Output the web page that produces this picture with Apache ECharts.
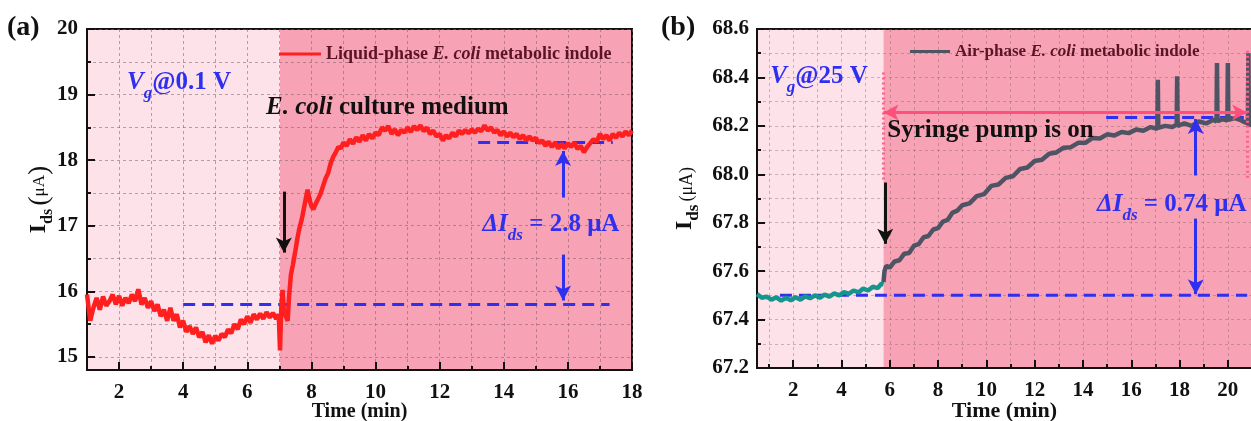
<!DOCTYPE html>
<html>
<head>
<meta charset="utf-8">
<script src="https://cdn.jsdelivr.net/npm/echarts@6/dist/echarts.min.js"></script>
<style>
  html, body { margin: 0; background: #fff; }
  #chart { width: 1251px; height: 421px; }
</style>
</head>
<body>
<div id="chart"></div>
<script>
// ---- panel (a): liquid-phase indole, Ids (uA) vs time (min)
const liquidTime = [
  1.0, 1.1, 1.2, 1.3, 1.4, 1.5, 1.6, 1.7, 1.8, 1.9, 2.0, 2.1, 2.2, 2.3, 2.4, 2.5, 2.6, 2.7, 2.8, 2.9,
  3.0, 3.1, 3.2, 3.3, 3.4, 3.5, 3.6, 3.7, 3.8, 3.9, 4.0, 4.1, 4.2, 4.3, 4.4, 4.5, 4.6, 4.7, 4.8, 4.9,
  5.0, 5.1, 5.2, 5.3, 5.4, 5.5, 5.6, 5.7, 5.8, 5.9, 6.0, 6.1, 6.2, 6.3, 6.4, 6.5, 6.6, 6.7, 6.8, 6.9,
  6.98, 7.02, 7.06, 7.1, 7.14, 7.2, 7.26, 7.3, 7.36, 7.42, 7.5, 7.56, 7.62, 7.7, 7.76, 7.82, 7.88, 7.94,
  8.0, 8.06, 8.12, 8.2, 8.28, 8.36, 8.44, 8.52, 8.6, 8.68, 8.76, 8.84, 8.92, 9.0,
  9.1, 9.2, 9.3, 9.4, 9.5, 9.6, 9.7, 9.8, 9.9, 10.0, 10.1, 10.2, 10.3, 10.4, 10.5, 10.6, 10.7, 10.8, 10.9,
  11.0, 11.1, 11.2, 11.3, 11.4, 11.5, 11.6, 11.7, 11.8, 11.9, 12.0, 12.1, 12.2, 12.3, 12.4, 12.5, 12.6, 12.7, 12.8, 12.9,
  13.0, 13.1, 13.2, 13.3, 13.4, 13.5, 13.6, 13.7, 13.8, 13.9, 14.0, 14.1, 14.2, 14.3, 14.4, 14.5, 14.6, 14.7, 14.8, 14.9,
  15.0, 15.1, 15.2, 15.3, 15.4, 15.5, 15.6, 15.7, 15.8, 15.9, 16.0, 16.1, 16.2, 16.3, 16.4, 16.5, 16.6, 16.7, 16.8, 16.9,
  17.0, 17.1, 17.2, 17.3, 17.4, 17.5, 17.6, 17.7, 17.8, 17.9, 18.0
];
const liquidIds = [
  15.95, 15.55, 15.75, 15.9, 15.72, 15.92, 15.78, 15.85, 15.95, 15.8, 15.93, 15.78, 15.9, 15.82, 15.95, 15.85, 16.03, 15.8, 15.9, 15.75,
  15.85, 15.7, 15.8, 15.62, 15.72, 15.55, 15.75, 15.55, 15.65, 15.45, 15.55, 15.38, 15.47, 15.35, 15.45, 15.3, 15.38, 15.22, 15.33, 15.2,
  15.32, 15.25, 15.35, 15.3, 15.42, 15.36, 15.5, 15.42, 15.57, 15.5, 15.62, 15.52, 15.65, 15.57, 15.66, 15.58, 15.68, 15.6, 15.67, 15.58,
  15.65, 15.1, 15.75, 16.02, 15.7, 15.62, 15.55, 15.9, 16.25, 16.4, 16.62, 16.8, 16.95, 17.1, 17.25, 17.4, 17.55, 17.4,
  17.3, 17.25, 17.32, 17.4, 17.48, 17.6, 17.72, 17.8, 17.95, 18.05, 18.12, 18.2, 18.18, 18.27,
  18.22, 18.32, 18.25, 18.35, 18.28, 18.38, 18.3, 18.4, 18.33, 18.42, 18.38, 18.5, 18.45, 18.52, 18.4, 18.47, 18.38, 18.46, 18.42,
  18.5, 18.43, 18.52, 18.46, 18.53, 18.44, 18.5, 18.4, 18.45, 18.36, 18.4, 18.3, 18.38, 18.33, 18.42, 18.36, 18.45, 18.4, 18.46, 18.41,
  18.47, 18.42, 18.48, 18.44, 18.53, 18.45, 18.5, 18.42, 18.46, 18.38, 18.44, 18.36, 18.42, 18.35, 18.4, 18.32, 18.38, 18.3, 18.36, 18.3,
  18.34, 18.26, 18.3, 18.22, 18.28, 18.2, 18.27, 18.18, 18.25, 18.18, 18.26, 18.2, 18.27, 18.17, 18.22, 18.12, 18.2, 18.26, 18.32, 18.28,
  18.4, 18.32, 18.38, 18.3, 18.4, 18.34, 18.42, 18.36, 18.44, 18.38, 18.45
];

// ---- panel (b): air-phase indole, before pump (teal) and after pump (grey)
const airBaseTime = [
  0.5, 0.7, 0.9, 1.1, 1.3, 1.5, 1.7, 1.9, 2.1, 2.3, 2.5, 2.7, 2.9, 3.1, 3.3, 3.5, 3.7, 3.9,
  4.1, 4.3, 4.5, 4.7, 4.9, 5.1, 5.3, 5.5, 5.65, 5.74
];
const airBaseIds = [
  67.505, 67.49, 67.495, 67.482, 67.492, 67.478, 67.49, 67.48, 67.492, 67.482, 67.496, 67.488, 67.5, 67.49, 67.503, 67.495, 67.508, 67.5,
  67.514, 67.506, 67.52, 67.512, 67.528, 67.52, 67.536, 67.53, 67.548, 67.545
];
const airTime = [
  5.74, 5.78, 5.85, 6.0, 6.2, 6.4, 6.6, 6.8, 7.0, 7.2, 7.4, 7.6, 7.8, 8.0, 8.2, 8.4, 8.6, 8.8, 9.0,
  9.3, 9.6, 9.9, 10.2, 10.5, 10.8, 11.1, 11.4, 11.7, 12.0, 12.3, 12.6, 12.9, 13.2, 13.5, 13.8, 14.1, 14.4, 14.7,
  15.0, 15.3, 15.6, 15.9, 16.2, 16.5, 16.8, 17.08, 17.1, 17.12, 17.4, 17.7, 17.88, 17.9, 17.92, 18.2, 18.5,
  18.8, 19.1, 19.4, 19.53, 19.55, 19.57, 19.8, 19.98, 20.0, 20.02, 20.3, 20.5, 20.7, 20.83, 20.85, 20.87, 21.0
];
const airIds = [
  67.555, 67.6, 67.622, 67.615, 67.64, 67.645, 67.672, 67.675, 67.705, 67.712, 67.74, 67.745, 67.772, 67.778, 67.805, 67.812, 67.842, 67.85, 67.872,
  67.88, 67.91, 67.918, 67.952, 67.958, 67.985, 67.992, 68.022, 68.028, 68.055, 68.06, 68.085, 68.09, 68.11, 68.112, 68.13, 68.13, 68.15, 68.148,
  68.165, 68.16, 68.175, 68.17, 68.185, 68.18, 68.195, 68.188, 68.39, 68.192, 68.2, 68.195, 68.205, 68.405, 68.2, 68.21, 68.2,
  68.218, 68.21, 68.225, 68.218, 68.46, 68.22, 68.228, 68.222, 68.46, 68.225, 68.232, 68.225, 68.215, 68.21, 68.5, 68.2, 68.215
];

// ---- axes
const timeTicksA = [1, 2, 3, 4, 5, 6, 7, 8, 9, 10, 11, 12, 13, 14, 15, 16, 17, 18];
const timeLabelsA = [2, 4, 6, 8, 10, 12, 14, 16, 18];
const idsTicksA = [15, 15.5, 16, 16.5, 17, 17.5, 18, 18.5, 19, 19.5, 20];
const idsLabelsA = [15, 16, 17, 18, 19, 20];
const timeTicksB = [1, 2, 3, 4, 5, 6, 7, 8, 9, 10, 11, 12, 13, 14, 15, 16, 17, 18, 19, 20, 21];
const timeLabelsB = [2, 4, 6, 8, 10, 12, 14, 16, 18, 20];
const idsTicksB = [67.2, 67.3, 67.4, 67.5, 67.6, 67.7, 67.8, 67.9, 68.0, 68.1, 68.2, 68.3, 68.4, 68.5, 68.6];
const idsLabelsB = [67.2, 67.4, 67.6, 67.8, 68.0, 68.2, 68.4, 68.6];

// shaded phases (time boundaries)
const phasesA = [1, 7.02, 18];
const phasesB = [0.5, 5.74, 21];

// dashed reference levels [time, Ids]
const baselineA = [[4, 15.8], [17.3, 15.8]];
const plateauA = [[13.2, 18.27], [17.4, 18.27]];
const baselineB = [[1.45, 67.5], [20.8, 67.5]];
const plateauB = [[14.96, 68.235], [20.66, 68.235]];

const FONT = '"Liberation Serif", "Times New Roman", serif';
const INK = '#111';
const BLUE = '#2f2ff0';
const LIGHT = '#fde3e9';
const DARK = '#f8a3b5';

const pair = (xs, ys) => xs.map((x, i) => [x, ys[i]]);

function axisPair(dim, gridIndex, min, max, ticks, labels, opts) {
  const main = {
    type: 'value', gridIndex, min, max, z: 1.5,
    position: dim === 'x' ? 'bottom' : 'left',
    axisLine: { show: true, onZero: false, lineStyle: { color: INK, width: 2 } },
    axisTick: { show: true, inside: true, length: 4, customValues: ticks, lineStyle: { color: INK, width: 2 } },
    axisLabel: {
      show: true, customValues: labels, margin: opts.margin,
      formatter: opts.fmt,
      fontFamily: FONT, fontWeight: 'bold', fontSize: opts.fontSize, color: INK
    },
    splitLine: { show: true, lineStyle: { color: opts.gridColor, type: [3, 3], width: 1 } },
    name: opts.name, nameLocation: 'middle', nameGap: opts.nameGap, nameMoveOverlap: false,
    nameRotate: dim === 'x' ? 0 : 90,
    nameTextStyle: opts.nameStyle
  };
  const major = {
    type: 'value', gridIndex, min, max, z: 1.5,
    position: dim === 'x' ? 'bottom' : 'left',
    axisLine: { show: false, onZero: false },
    axisTick: { show: true, inside: true, length: 8, customValues: labels, lineStyle: { color: INK, width: 2 } },
    axisLabel: { show: false },
    splitLine: { show: false }
  };
  return [main, major];
}

const timeName = size => ({ fontFamily: FONT, fontWeight: 'bold', fontSize: size, color: INK });
const idsNameA = {
  fontFamily: FONT, color: INK,
  rich: {
    b: { fontFamily: FONT, fontSize: 24, fontWeight: 'bold', color: INK, verticalAlign: 'bottom', padding: [0, 0, 5, 0] },
    s: { fontFamily: FONT, fontSize: 16, fontWeight: 'bold', color: INK, verticalAlign: 'bottom' },
    p: { fontFamily: FONT, fontSize: 28, color: INK, verticalAlign: 'bottom', padding: [0, 0, 2, 0] },
    u: { fontFamily: FONT, fontSize: 17, color: INK, verticalAlign: 'bottom', padding: [0, 0, 8, 0] }
  }
};
const idsNameB = {
  fontFamily: FONT, color: INK,
  rich: {
    b: { fontFamily: FONT, fontSize: 24, fontWeight: 'bold', color: INK, verticalAlign: 'bottom', padding: [0, 0, 5, 0] },
    s: { fontFamily: FONT, fontSize: 17, fontWeight: 'bold', color: INK, verticalAlign: 'bottom' },
    u: { fontFamily: FONT, fontSize: 18, color: INK, verticalAlign: 'bottom', padding: [0, 0, 6, 0] }
  }
};

const xA = axisPair('x', 0, 1, 18, timeTicksA, timeLabelsA, {
  margin: 12, fontSize: 21, fmt: v => String(v), gridColor: 'rgba(120,100,105,0.55)',
  name: 'Time (min)', nameGap: 32, nameStyle: timeName(20)
});
const yA = axisPair('y', 0, 14.8, 20, idsTicksA, idsLabelsA, {
  margin: 9, fontSize: 21, fmt: v => String(v), gridColor: 'rgba(120,100,105,0.55)',
  name: '{b|I}{s|ds} {p|(}{u|μA}{p|)}', nameGap: 31, nameStyle: idsNameA
});
const xB = axisPair('x', 1, 0.5, 21, timeTicksB, timeLabelsB, {
  margin: 12, fontSize: 21, fmt: v => String(v), gridColor: 'rgba(120,100,105,0.4)',
  name: 'Time (min)', nameGap: 32, nameStyle: timeName(22)
});
const yB = axisPair('y', 1, 67.2, 68.6, idsTicksB, idsLabelsB, {
  margin: 8, fontSize: 21, fmt: v => v.toFixed(1), gridColor: 'rgba(120,100,105,0.4)',
  name: '{b|I}{s|ds} {u|(μA)}', nameGap: 55, nameStyle: idsNameB
});

// rich styles for annotations
const tok = (size, opts) => Object.assign({ fontFamily: FONT, fontSize: size, fontWeight: 'bold', verticalAlign: 'bottom' }, opts);
const blueRich = {
  vi: tok(25, { color: BLUE, fontStyle: 'italic', padding: [0, 0, 7, 0] }),
  vs: tok(17, { color: BLUE, fontStyle: 'italic' }),
  vb: tok(25, { color: BLUE, padding: [0, 0, 7, 0] })
};
const blackRich = {
  ki: tok(25, { color: INK, fontStyle: 'italic' }),
  kb: tok(25, { color: INK })
};

function note(coord, text, rich) {
  return {
    coord, symbol: 'circle', symbolSize: 1,
    itemStyle: { color: 'rgba(0,0,0,0)' },
    label: { show: true, position: 'inside', formatter: text, rich, color: INK }
  };
}
function arrow(from, to, color, width, both) {
  return [
    { coord: from, symbol: both ? 'arrow' : 'none', lineStyle: { color, width, type: 'solid' } },
    { coord: to, symbol: 'arrow' }
  ];
}
function dotted(from, to, color) {
  return [
    { coord: from, symbol: 'none', lineStyle: { color, width: 3, type: [2, 3] } },
    { coord: to, symbol: 'none' }
  ];
}

const legendText = size => ({
  fontFamily: FONT, fontWeight: 'bold', fontSize: size, color: '#5a1424',
  rich: { i: { fontFamily: FONT, fontWeight: 'bold', fontStyle: 'italic', fontSize: size, color: '#5a1424' } }
});

const chart = echarts.init(document.getElementById('chart'));
chart.setOption({
  animation: false,
  backgroundColor: '#fff',
  grid: [
    { left: 87, top: 29, width: 545, height: 341, show: true, z: 1.5, outerBoundsMode: 'none', containLabel: false,
      backgroundColor: 'rgba(0,0,0,0)', borderColor: INK, borderWidth: 2 },
    { left: 757, top: 29, width: 495, height: 339, show: true, z: 1.5, outerBoundsMode: 'none', containLabel: false,
      backgroundColor: 'rgba(0,0,0,0)', borderColor: INK, borderWidth: 2 }
  ],
  xAxis: [...xA, ...xB],
  yAxis: [...yA, ...yB],
  legend: [
    {
      data: ['Liquid-phase E. coli metabolic indole'], left: 274, top: 40,
      icon: 'rect', itemWidth: 42, itemHeight: 3,
      formatter: () => 'Liquid-phase {i|E. coli} metabolic indole',
      textStyle: legendText(18)
    },
    {
      data: ['Air-phase E. coli metabolic indole'], left: 905, top: 38,
      icon: 'rect', itemWidth: 40, itemHeight: 3,
      formatter: () => 'Air-phase {i|E. coli} metabolic indole',
      textStyle: legendText(17)
    }
  ],
  graphic: [
    { type: 'text', left: 7, top: 14, style: { text: '(a)', font: 'bold 28px ' + FONT, fill: INK } },
    { type: 'text', left: 661, top: 14, style: { text: '(b)', font: 'bold 28px ' + FONT, fill: INK } }
  ],
  series: [
    // panel (a) backgrounds
    {
      type: 'line', xAxisIndex: 0, yAxisIndex: 0, data: [], z: 1, silent: true,
      markArea: {
        silent: true, z: 1,
        data: [
          [{ xAxis: phasesA[0], itemStyle: { color: LIGHT } }, { xAxis: phasesA[1] }],
          [{ xAxis: phasesA[1], itemStyle: { color: DARK } }, { xAxis: phasesA[2] }]
        ]
      }
    },
    {
      type: 'line', xAxisIndex: 0, yAxisIndex: 0, data: baselineA, symbol: 'none', silent: true,
      lineStyle: { color: BLUE, width: 3, type: [12, 7] }
    },
    {
      type: 'line', xAxisIndex: 0, yAxisIndex: 0, data: plateauA, symbol: 'none', silent: true,
      lineStyle: { color: BLUE, width: 3, type: [12, 7] }
    },
    {
      name: 'Liquid-phase E. coli metabolic indole',
      type: 'line', xAxisIndex: 0, yAxisIndex: 0,
      data: pair(liquidTime, liquidIds),
      symbol: 'none', showSymbol: false,
      lineStyle: { color: '#ff1f1f', width: 4.5, join: 'bevel' }, itemStyle: { color: '#ff1f1f' },
      markLine: {
        silent: true, symbolSize: [12, 15], label: { show: false },
        data: [
          arrow([7.14, 17.52], [7.14, 16.59], INK, 3),
          arrow([15.85, 17.43], [15.85, 18.14], BLUE, 3),
          arrow([15.85, 16.56], [15.85, 15.86], BLUE, 3)
        ]
      },
      markPoint: {
        silent: true,
        data: [
          note([3.87, 19.13], '{vi|V}{vs|g}{vb|@0.1 V}', blueRich),
          note([10.37, 18.8], '{ki|E. coli}{kb| culture medium}', blackRich),
          note([15.47, 16.97], '{vi|ΔI}{vs|ds}{vb| = 2.8 μA}', blueRich)
        ]
      }
    },
    // panel (b) backgrounds
    {
      type: 'line', xAxisIndex: 2, yAxisIndex: 2, data: [], z: 1, silent: true,
      markArea: {
        silent: true, z: 1,
        data: [
          [{ xAxis: phasesB[0], itemStyle: { color: LIGHT } }, { xAxis: phasesB[1] }],
          [{ xAxis: phasesB[1], itemStyle: { color: DARK } }, { xAxis: phasesB[2] }]
        ]
      }
    },
    {
      type: 'line', xAxisIndex: 2, yAxisIndex: 2, data: baselineB, symbol: 'none', silent: true,
      lineStyle: { color: BLUE, width: 3, type: [12, 7] }
    },
    {
      type: 'line', xAxisIndex: 2, yAxisIndex: 2, data: plateauB, symbol: 'none', silent: true,
      lineStyle: { color: BLUE, width: 3, type: [12, 7] }
    },
    {
      type: 'line', xAxisIndex: 2, yAxisIndex: 2, data: pair(airBaseTime, airBaseIds),
      symbol: 'none', silent: true,
      lineStyle: { color: '#16958c', width: 4.5 }
    },
    {
      name: 'Air-phase E. coli metabolic indole',
      type: 'line', xAxisIndex: 2, yAxisIndex: 2,
      data: pair(airTime, airIds),
      symbol: 'none', showSymbol: false,
      lineStyle: { color: '#4e5464', width: 4.5, join: 'bevel' }, itemStyle: { color: '#4e5464' },
      markLine: {
        silent: true, symbolSize: [12, 15], label: { show: false },
        data: [
          dotted([5.74, 68.42], [5.74, 67.97], '#ff6088'),
          dotted([20.8, 68.51], [20.8, 67.98], '#ff6088'),
          arrow([5.74, 68.255], [20.8, 68.255], '#ff4f7b', 3, true),
          arrow([5.81, 67.966], [5.81, 67.713], INK, 3),
          arrow([18.67, 67.995], [18.67, 68.228], BLUE, 3),
          arrow([18.67, 67.817], [18.67, 67.505], BLUE, 3)
        ]
      },
      markPoint: {
        silent: true,
        data: [
          note([3.07, 68.39], '{vi|V}{vs|g}{vb|@25 V}', blueRich),
          note([10.17, 68.18], '{kb|Syringe pump is on}', blackRich),
          note([17.68, 67.86], '{vi|ΔI}{vs|ds}{vb| = 0.74 μA}', blueRich)
        ]
      }
    }
  ]
});
</script>
</body>
</html>
